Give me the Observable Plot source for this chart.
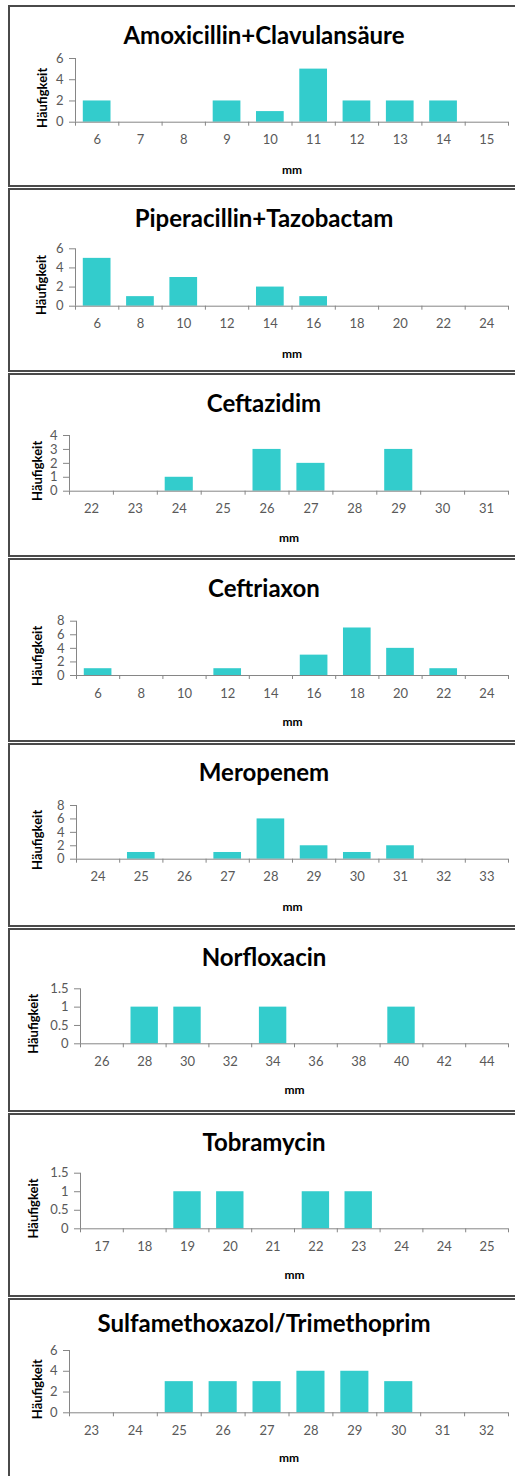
<!DOCTYPE html>
<html>
<head>
<meta charset="utf-8">
<script src="https://cdn.jsdelivr.net/npm/d3@7"></script>
<script src="https://cdn.jsdelivr.net/npm/@observablehq/plot@0.6"></script>
<style>
  html, body { margin: 0; padding: 0; background: #fff; }
  body { width: 515px; height: 1476px; overflow: hidden; position: relative; font-family: Lato, "Open Sans", sans-serif; }
  .panel { position: absolute; left: 8px; width: 520px; box-sizing: border-box; border: 2px solid #4a4a4a; border-right: none; }
  .title { position: absolute; left: 8px; width: 512px; text-align: center; font-weight: bold; font-size: 24px; color: #000; line-height: 1; transform: translateY(-50%); white-space: nowrap; }
  .chart { position: absolute; left: 0; }
</style>
</head>
<body>
<script>
// ---- data ----
const titles = ["Amoxicillin+Clavulansäure", "Piperacillin+Tazobactam", "Ceftazidim", "Ceftriaxon", "Meropenem", "Norfloxacin", "Tobramycin", "Sulfamethoxazol/Trimethoprim"];

const amoxLabels = ["6","7","8","9","10","11","12","13","14","15"];
const amoxCounts = [2,0,0,2,1,5,2,2,2,0];
const amoxYTicks = [0,2,4,6];

const pipLabels = ["6","8","10","12","14","16","18","20","22","24"];
const pipCounts = [5,1,3,0,2,1,0,0,0,0];
const pipYTicks = [0,2,4,6];

const cazLabels = ["22","23","24","25","26","27","28","29","30","31"];
const cazCounts = [0,0,1,0,3,2,0,3,0,0];
const cazYTicks = [0,1,2,3,4];

const croLabels = ["6","8","10","12","14","16","18","20","22","24"];
const croCounts = [1,0,0,1,0,3,7,4,1,0];
const croYTicks = [0,2,4,6,8];

const merLabels = ["24","25","26","27","28","29","30","31","32","33"];
const merCounts = [0,1,0,1,6,2,1,2,0,0];
const merYTicks = [0,2,4,6,8];

const norLabels = ["26","28","30","32","34","36","38","40","42","44"];
const norCounts = [0,1,1,0,1,0,0,1,0,0];
const norYTicks = [0,0.5,1,1.5];

const tobLabels = ["17","18","19","20","21","22","23","24","24","25"];
const tobCounts = [0,0,1,1,0,1,1,0,0,0];
const tobYTicks = [0,0.5,1,1.5];

const sxtLabels = ["23","24","25","26","27","28","29","30","31","32"];
const sxtCounts = [0,0,3,3,3,4,4,3,0,0];
const sxtYTicks = [0,2,4,6];

const yLabel = "Häufigkeit";
const xLabel = "mm";

// ---- layout (pixel placement per panel) ----
const layout = [
  {top: 5,    axisX: 75, yTop: 53,   yZero: 116.7, titleY: 30,   labelX: 42, mmY: 168},
  {top: 188,  axisX: 75, yTop: 60.3, yZero: 117.7, titleY: 30,   labelX: 41, mmY: 169.7},
  {top: 373,  axisX: 69, yTop: 62,   yZero: 117.7, titleY: 30,   labelX: 37, mmY: 168.7},
  {top: 558,  axisX: 76, yTop: 62.7, yZero: 117,   titleY: 29.7, labelX: 37, mmY: 167},
  {top: 743,  axisX: 76, yTop: 62,   yZero: 115.7, titleY: 28.7, labelX: 37, mmY: 167},
  {top: 928,  axisX: 80, yTop: 60.3, yZero: 115.3, titleY: 28.7, labelX: 33, mmY: 165},
  {top: 1113, axisX: 80, yTop: 59.7, yZero: 115.3, titleY: 28.7, labelX: 33, mmY: 165},
  {top: 1298, axisX: 69, yTop: 52,   yZero: 114.3, titleY: 25,   labelX: 37, mmY: 163.7}
];

const series = [
  [amoxLabels, amoxCounts, amoxYTicks],
  [pipLabels, pipCounts, pipYTicks],
  [cazLabels, cazCounts, cazYTicks],
  [croLabels, croCounts, croYTicks],
  [merLabels, merCounts, merYTicks],
  [norLabels, norCounts, norYTicks],
  [tobLabels, tobCounts, tobYTicks],
  [sxtLabels, sxtCounts, sxtYTicks]
];

const W = 515, H = 185;
const barColor = "#33CCCC";
const axisColor = "#868686";
const tickTextColor = "#595959";

series.forEach(([labels, counts, yTicks], k) => {
  const L = layout[k];
  const next = k < layout.length - 1 ? layout[k + 1].top : 1500;
  const panel = document.createElement("div");
  panel.className = "panel";
  panel.style.top = L.top + "px";
  panel.style.height = (next - L.top - 1) + "px";
  document.body.appendChild(panel);

  const data = labels.map((lab, i) => ({i, lab, v: counts[i]}));
  const n = labels.length;
  const yMax = yTicks[yTicks.length - 1];

  const chart = Plot.plot({
    width: W,
    height: H,
    marginLeft: L.axisX,
    marginRight: W - 508,
    marginTop: L.yTop,
    marginBottom: H - L.yZero,
    style: {fontFamily: "Lato, 'Open Sans', sans-serif", fontSize: "13px", background: "transparent", overflow: "visible"},
    x: {type: "linear", domain: [0, n]},
    y: {domain: [0, yMax]},
    marks: [
      Plot.rectY(data, {x1: d => d.i + 0.18, x2: d => d.i + 0.82, y: "v", fill: barColor}),
      Plot.ruleY([0], {stroke: axisColor}),
      Plot.ruleX([0], {stroke: axisColor}),
      Plot.axisY({ticks: yTicks, tickFormat: d => String(d), tickSize: 6, tickPadding: 6, stroke: axisColor, fill: tickTextColor, label: null, fontSize: 13}),
      Plot.axisX({ticks: d3.range(n + 1), tickFormat: () => "", tickSize: 4, stroke: axisColor, label: null}),
      Plot.axisX({ticks: d3.range(n).map(i => i + 0.5), tickFormat: d => labels[Math.floor(d)], tickSize: 0, tickPadding: 13, fill: tickTextColor, label: null, fontSize: 13}),
      Plot.text([yLabel], {frameAnchor: "left", dx: L.labelX - L.axisX, dy: 7.5, rotate: -90, text: d => d, fontWeight: "bold", fontSize: 13, fill: "#000", textAnchor: "middle"}),
      Plot.text([xLabel], {frameAnchor: "bottom", dy: L.mmY - L.yZero, text: d => d, fontWeight: "bold", fontSize: 12, fill: "#000", textAnchor: "middle"})
    ]
  });
  chart.classList.add("chart");
  chart.style.top = L.top + "px";
  document.body.appendChild(chart);

  const t = document.createElement("div");
  t.className = "title";
  t.style.top = (L.top + L.titleY) + "px";
  t.textContent = titles[k];
  document.body.appendChild(t);
});
</script>
</body>
</html>
